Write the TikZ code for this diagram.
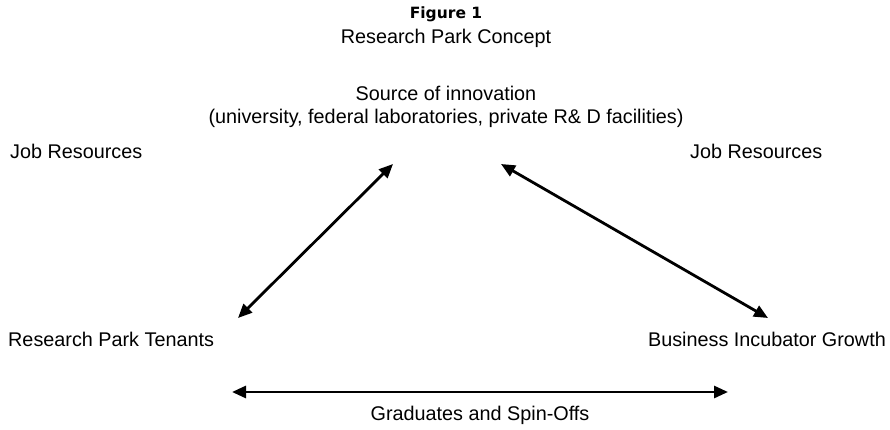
\documentclass[tikz,border=0pt]{standalone}
\usepackage{fontspec}
\setmainfont{Liberation Sans}
\newfontfamily\headfont{DejaVu Sans}
\usetikzlibrary{arrows.meta}

\tikzset{
  lbl/.style={inner sep=0pt, font=\fontsize{19.8}{23}\selectfont},
  link/.style={line width=2.8pt, {Triangle[length=14pt,width=12pt]}-{Triangle[length=14pt,width=12pt]}}
}

\begin{document}
\begin{tikzpicture}[x=1pt, y=-1pt]
            \useasboundingbox (0,0) rectangle (890,430);

            \node[lbl, font=\headfont\fontsize{15.5}{18}\bfseries] (fig) at (446, 14) {Figure 1};
            \node[lbl] (title) at (446, 38) {Research Park Concept};

            \node[lbl] (src) at (446, 93) {Source of innovation};
            \node[lbl] (srcsub) at (446, 118) {(university, federal laboratories, private R\& D facilities)};

            \node[lbl, anchor=west] (jobl) at (10, 151) {Job Resources};
            \node[lbl, anchor=west] (jobr) at (690, 151) {Job Resources};

            \node[lbl, anchor=west] (tenants) at (8, 339) {Research Park Tenants};
            \node[lbl, anchor=east] (incub) at (886, 339) {Business Incubator Growth};

            \node[lbl] (grads) at (480, 415) {Graduates and Spin-Offs};

            \coordinate (srcl) at (393, 164);
            \coordinate (srcr) at (501, 164);
            \coordinate (tenl) at (238, 318);
            \coordinate (incr) at (768, 318);
            \coordinate (botl) at (232, 392);
            \coordinate (botr) at (728, 392);

            \draw[link] (srcl) -- (tenl);
            \draw[link] (srcr) -- (incr);
            \draw[link] (botl) -- (botr);
    \end{tikzpicture}
\end{document}
